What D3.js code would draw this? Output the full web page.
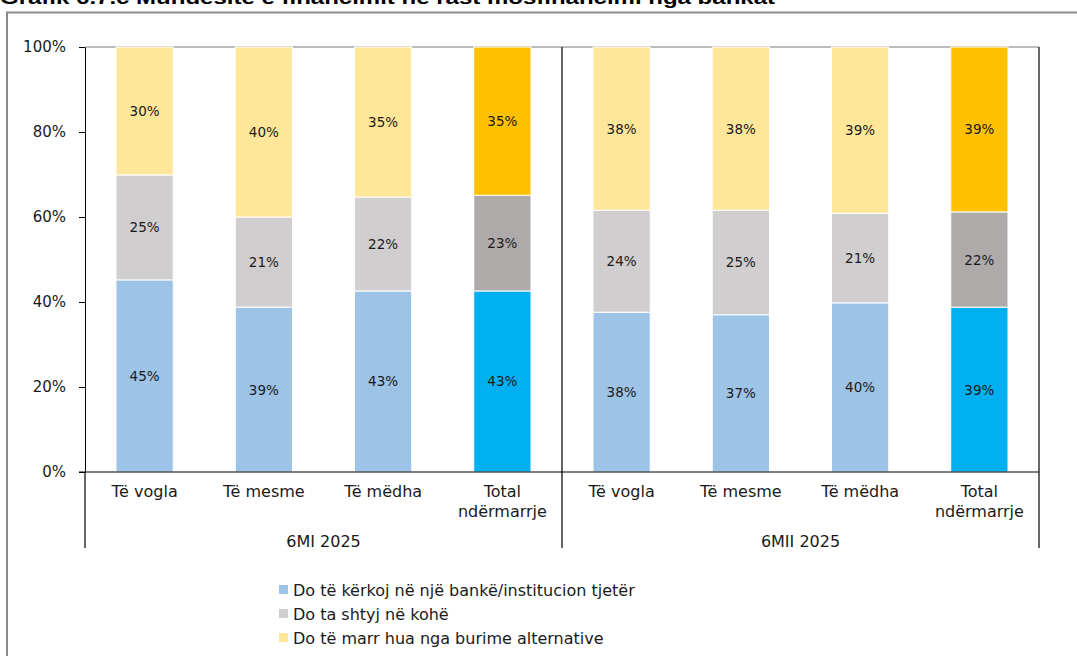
<!DOCTYPE html>
<html><head><meta charset="utf-8">
<script src="https://cdn.jsdelivr.net/npm/d3@7"></script>
<style>body{margin:0;background:#fff}svg{display:block}</style>
</head><body>
<script>
const periods = ["6MI 2025", "6MII 2025"];
const categories = ["Të vogla", "Të mesme", "Të mëdha", "Total ndërmarrje"];
const seriesNames = ["Do të kërkoj në një bankë/institucion tjetër", "Do ta shtyj në kohë", "Do të marr hua nga burime alternative"];
// values per bar: [blue, gray, yellow] in order of periods x categories
const blueValues   = [45.2, 38.8, 42.6, 42.6, 37.6, 37.0, 39.8, 38.8];
const grayValues   = [24.7, 21.2, 22.1, 22.5, 24.0, 24.6, 21.1, 22.4];
const yellowValues = [30.1, 40.0, 35.3, 34.9, 38.4, 38.4, 39.1, 38.8];
const yTicks = [0, 20, 40, 60, 80, 100];
const colorsNormal = ["#9DC3E6", "#D0CECE", "#FFE699"];
const colorsTotal  = ["#00B0F0", "#AEAAAA", "#FFC000"];
const titleText = "Grafik 6.7.c Mundësitë e financimit në rast mosfinancimi nga bankat";

const W = 1077, H = 656;
const svg = d3.select("body").append("svg").attr("width", W).attr("height", H);
const font = "DejaVu Sans, Verdana, sans-serif";

// title (clipped at top edge as in the reference)
svg.append("text").attr("x", 0).attr("y", 4).attr("font-family", "Liberation Sans, Arial, sans-serif")
  .attr("font-weight", "bold").attr("font-size", 19).attr("textLength", 775).attr("lengthAdjust", "spacingAndGlyphs")
  .text(titleText);
// frame
svg.append("path").attr("d", `M7,${H+5} L7,12.5 L${W+5},12.5`).attr("fill", "none").attr("stroke", "#8c8c8c").attr("stroke-width", 2);

const L = 85, R = 1039, T = 47, B = 472;
const bars = [];
periods.forEach((p, pi) => categories.forEach((c, ci) => {
  const i = pi * categories.length + ci;
  bars.push({key: p + "|" + c, period: p, cat: c, total: ci === categories.length - 1,
             vals: [blueValues[i], grayValues[i], yellowValues[i]]});
}));

const x = d3.scaleBand().domain(bars.map(d => d.key)).range([L, R]).paddingInner(0.52).paddingOuter(0.26);
const y = d3.scaleLinear().domain([0, 100]).range([B, T]);

svg.append("line").attr("x1", L).attr("x2", R).attr("y1", y(100)).attr("y2", y(100)).attr("stroke", "#a6a6a6").attr("stroke-width", 1.5);

bars.forEach(b => {
  let acc = 0;
  b.vals.forEach((v, si) => {
    const y0 = acc, y1 = acc + v; acc = y1;
    svg.append("rect").attr("x", x(b.key)).attr("width", x.bandwidth())
      .attr("y", y(y1)).attr("height", y(y0) - y(y1))
      .attr("fill", (b.total ? colorsTotal : colorsNormal)[si])
      .attr("stroke", "#fff").attr("stroke-width", 1);
    svg.append("text").attr("x", x(b.key) + x.bandwidth() / 2).attr("y", y((y0 + y1) / 2) + 5)
      .attr("text-anchor", "middle").attr("font-family", font).attr("font-size", 13.5).attr("fill", "#1a1a1a")
      .text(Math.round(v) + "%");
  });
});

const yAxis = d3.axisLeft(y).tickValues(yTicks).tickFormat(d => d + "%").tickSize(6).tickSizeOuter(0);
const ga = svg.append("g").attr("transform", `translate(${L},0)`).call(yAxis);
ga.select(".domain").attr("stroke", "#000");
ga.selectAll(".tick line").attr("stroke", "#000");
ga.selectAll("text").attr("font-family", font).attr("font-size", 15).attr("fill", "#1a1a1a").attr("dx", "-10");

svg.append("line").attr("x1", L - 6).attr("x2", R).attr("y1", B).attr("y2", B).attr("stroke", "#000").attr("stroke-width", 1.2);

const step = x.step();
const groupBounds = [L, L + step * 4, R];
groupBounds.forEach((gx, i) => {
  svg.append("line").attr("x1", gx).attr("x2", gx).attr("y1", i === 0 ? B : T).attr("y2", 548)
    .attr("stroke", "#000").attr("stroke-width", 1.2);
});

bars.forEach(b => {
  const cx = x(b.key) + x.bandwidth() / 2;
  const words = b.cat === "Total ndërmarrje" ? ["Total", "ndërmarrje"] : [b.cat];
  words.forEach((w, wi) => {
    svg.append("text").attr("x", cx).attr("y", 497 + wi * 20).attr("text-anchor", "middle")
      .attr("font-family", font).attr("font-size", 16).attr("fill", "#1a1a1a").text(w);
  });
});
periods.forEach((p, pi) => {
  const cx = (groupBounds[pi] + groupBounds[pi + 1]) / 2;
  svg.append("text").attr("x", cx).attr("y", 547).attr("text-anchor", "middle")
    .attr("font-family", font).attr("font-size", 16).attr("fill", "#1a1a1a").text(p);
});

seriesNames.forEach((s, i) => {
  const ly = 590 + i * 24;
  svg.append("rect").attr("x", 279).attr("y", ly - 5).attr("width", 9).attr("height", 9).attr("fill", colorsNormal[i]);
  svg.append("text").attr("x", 293).attr("y", ly + 5.5).attr("font-family", font).attr("font-size", 16)
    .attr("fill", "#1a1a1a").text(s);
});
</script>
</body></html>
